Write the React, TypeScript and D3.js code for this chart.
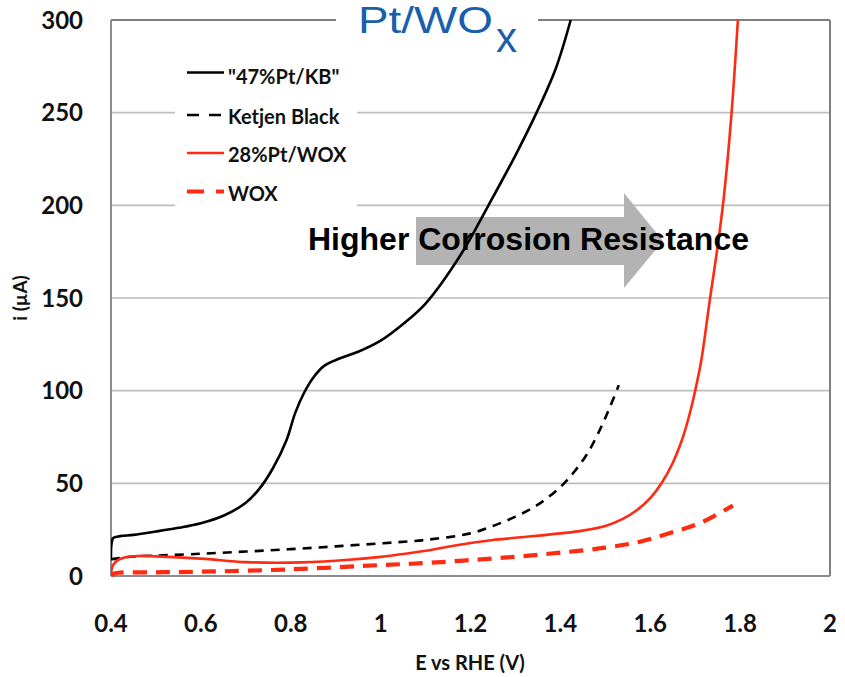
import React from "react";
import * as d3 from "d3";

// ---------- data ----------
const xTicks = [0.4, 0.6, 0.8, 1, 1.2, 1.4, 1.6, 1.8, 2];
const yTicks = [0, 50, 100, 150, 200, 250, 300];

const ptKbE = [0.4, 0.401, 0.405, 0.42, 0.45, 0.5, 0.55, 0.6, 0.65, 0.7, 0.73, 0.76, 0.79, 0.81, 0.83, 0.85, 0.875, 0.91, 0.95, 1.0, 1.05, 1.1, 1.18, 1.24, 1.3, 1.347, 1.39, 1.423];
const ptKbI = [9, 17, 20.5, 21.5, 22.2, 24, 26, 28.5, 32.5, 39.5, 47, 58, 73, 88, 99, 107, 113.5, 117.5, 121, 127, 136, 147, 174, 200, 227, 250, 274, 300];

const kbE = [0.4, 0.45, 0.5, 0.6, 0.7, 0.8, 0.9, 1.0, 1.1, 1.2, 1.25, 1.3, 1.35, 1.4, 1.43, 1.46, 1.49, 1.51, 1.53];
const kbI = [9, 10.5, 11, 12, 13.2, 14.5, 16, 17.6, 19.5, 23, 27, 32, 38.5, 48, 56, 66, 80, 91, 103];

const ptWoxE = [0.4, 0.401, 0.405, 0.415, 0.43, 0.46, 0.5, 0.6, 0.7, 0.8, 0.9, 1.0, 1.05, 1.1, 1.15, 1.2, 1.25, 1.3, 1.4, 1.45, 1.5, 1.54, 1.57, 1.6, 1.625, 1.65, 1.67, 1.685, 1.7, 1.714, 1.732, 1.75, 1.764, 1.781, 1.795];
const ptWoxI = [0, 3, 6, 8.6, 10, 10.8, 10.6, 9.4, 7.5, 7.2, 8.2, 10.3, 11.9, 13.6, 15.8, 17.8, 19.4, 20.6, 23, 24.5, 27, 31, 35.5, 42, 50, 61, 73, 85, 100, 117, 148, 178, 205, 250, 300];

const woxE = [0.4, 0.405, 0.42, 0.5, 0.6, 0.8, 1.0, 1.1, 1.2, 1.3, 1.4, 1.5, 1.577, 1.644, 1.711, 1.784];
const woxI = [0, 1.2, 1.8, 2, 2.3, 3.6, 5.9, 7, 8.6, 10.4, 12.6, 15.3, 18.5, 23.2, 28.6, 38];

const seriesNames = ['"47%Pt/KB"', "Ketjen Black", "28%Pt/WOX", "WOX"];

// ---------- layout ----------
const W = 845;
const H = 677;
const M = { left: 111, top: 20, right: 830, bottom: 576 };

export default function App() {
  const x = d3.scaleLinear().domain([0.4, 2]).range([M.left, M.right]);
  const y = d3.scaleLinear().domain([0, 300]).range([M.bottom, M.top]);
  const line = d3
    .line<[number, number]>()
    .x((d) => x(d[0]))
    .y((d) => y(d[1]))
    .curve(d3.curveCatmullRom.alpha(0.5));
  const zip = (a: number[], b: number[]) => a.map((v, i) => [v, b[i]] as [number, number]);

  const series = [
    { name: seriesNames[0], d: line(zip(ptKbE, ptKbI)), stroke: "#000", sw: 2.6, dash: undefined as string | undefined },
    { name: seriesNames[1], d: line(zip(kbE, kbI)), stroke: "#000", sw: 2.6, dash: "9,7" },
    { name: seriesNames[2], d: line(zip(ptWoxE, ptWoxI)), stroke: "#ff2a12", sw: 2.6, dash: undefined },
    { name: seriesNames[3], d: line(zip(woxE, woxI)), stroke: "#ff2a12", sw: 4.2, dash: "14,9" },
  ];

  const tickFont = "Lato, 'Open Sans', sans-serif";
  const legendRows = [
    { ly: 72.5, ty: 76.5, dash: undefined as string | undefined, stroke: "#000", sw: 2.6 },
    { ly: 115, ty: 116.5, dash: "12,10", stroke: "#000", sw: 2.6 },
    { ly: 153, ty: 155, dash: undefined, stroke: "#ff2a12", sw: 2.6 },
    { ly: 191.5, ty: 194, dash: "17,12", stroke: "#ff2a12", sw: 4.2 },
  ];

  return (
    <svg width={W} height={H} style={{ position: "absolute", left: 0, top: 0, background: "#fff" }}>
      <defs>
        <clipPath id="plotClip">
          <rect x={M.left} y={M.top - 2} width={M.right - M.left} height={M.bottom - M.top + 4} />
        </clipPath>
      </defs>
      <rect x={0} y={0} width={W} height={H} fill="#fff" />
      {/* gridlines */}
      {yTicks
        .filter((t) => t > 0 && t < 300)
        .map((t) => (
          <line key={t} x1={M.left} x2={M.right} y1={y(t)} y2={y(t)} stroke="#bdbdbd" strokeWidth={1.6} />
        ))}
      {/* frame */}
      <line x1={M.left} x2={M.right} y1={M.top} y2={M.top} stroke="#7f7f7f" strokeWidth={2} />
      <line x1={M.right} x2={M.right} y1={M.top} y2={M.bottom} stroke="#7f7f7f" strokeWidth={2} />
      <line x1={M.left} x2={M.right} y1={M.bottom} y2={M.bottom} stroke="#8c8c8c" strokeWidth={2} />
      <line x1={M.left} x2={M.left} y1={M.top} y2={M.bottom} stroke="#8c8c8c" strokeWidth={2} />

      {/* legend box */}
      <rect x={175} y={58} width={182} height={154} fill="#fff" />
      {legendRows.map((r, i) => (
        <g key={i}>
          <line x1={187} x2={224} y1={r.ly} y2={r.ly} stroke={r.stroke} strokeWidth={r.sw} strokeDasharray={r.dash} />
          <text x={228} y={r.ty} dy="0.36em" fontFamily={tickFont} fontWeight={700} fontSize={20} fill="#111">
            {seriesNames[i]}
          </text>
        </g>
      ))}

      {/* arrow annotation */}
      <path d="M416,217 L624,217 L624,193 L663,241 L624,288 L624,265 L416,265 Z" fill="#b3b3b3" />

      {/* curves */}
      <g clipPath="url(#plotClip)" fill="none" strokeLinejoin="round">
        {series.map((s) => (
          <path key={s.name} d={s.d || ""} stroke={s.stroke} strokeWidth={s.sw} strokeDasharray={s.dash} />
        ))}
      </g>

      <text x={308} y={250} fontFamily="'Liberation Sans', Arial, sans-serif" fontWeight={700} fontSize={32} fill="#000">
        Higher Corrosion Resistance
      </text>

      {/* title */}
      <rect x={336} y={0} width={202} height={60} fill="#fff" />
      <text x={358} y={33} fontFamily="'Liberation Sans', Arial, sans-serif" fontSize={37} fill="#1a5fab">
        <tspan textLength={135} lengthAdjust="spacingAndGlyphs">Pt/WO</tspan>
        <tspan x={496} y={52} fontSize={42}>x</tspan>
      </text>

      {/* y tick labels */}
      {yTicks.map((t) => (
        <text key={t} x={83} y={y(t)} dy="0.36em" textAnchor="end" fontFamily={tickFont} fontWeight={700} fontSize={24} fill="#111">
          {t}
        </text>
      ))}
      {/* x tick labels */}
      {xTicks.map((t) => (
        <text key={t} x={x(t)} y={623} dy="0.36em" textAnchor="middle" fontFamily={tickFont} fontWeight={700} fontSize={24} fill="#111">
          {String(t)}
        </text>
      ))}
      <text x={470} y={663} dy="0.36em" textAnchor="middle" fontFamily={tickFont} fontWeight={700} fontSize={20} fill="#111">
        E vs RHE (V)
      </text>
      <text transform="translate(20,298) rotate(-90)" dy="0.36em" textAnchor="middle" fontFamily={tickFont} fontWeight={700} fontSize={19} fill="#111">
        i (µA)
      </text>
    </svg>
  );
}
